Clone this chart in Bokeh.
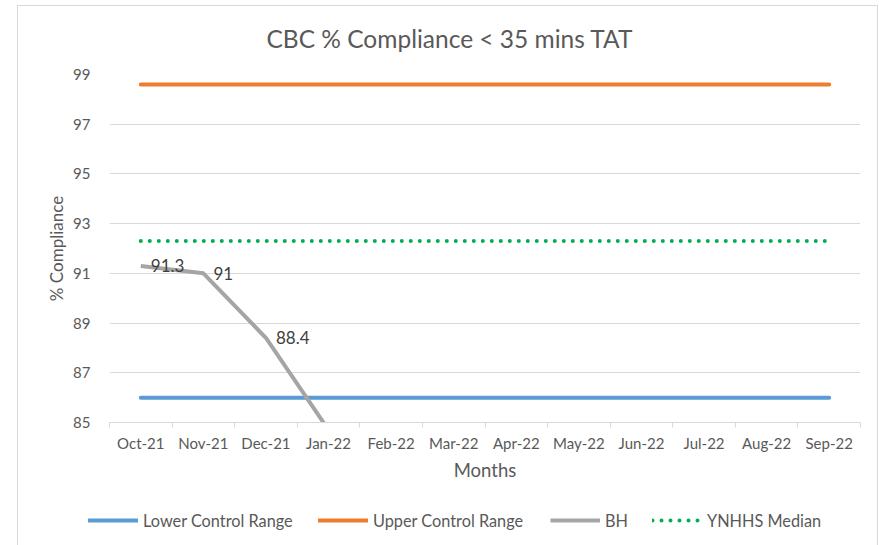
import math
from bokeh.plotting import figure
from bokeh.layouts import column
from bokeh.models import (Range1d, FixedTicker, Legend, LegendItem, Title,
                          ColumnDataSource, LabelSet)
from bokeh.core.properties import value
from bokeh.embed import file_html
from bokeh.resources import INLINE

# ---- data ----
months = ["Oct-21", "Nov-21", "Dec-21", "Jan-22", "Feb-22", "Mar-22",
          "Apr-22", "May-22", "Jun-22", "Jul-22", "Aug-22", "Sep-22"]
lower_control = [86.0, 86.0, 86.0, 86.0, 86.0, 86.0, 86.0, 86.0, 86.0, 86.0, 86.0, 86.0]
upper_control = [98.6, 98.6, 98.6, 98.6, 98.6, 98.6, 98.6, 98.6, 98.6, 98.6, 98.6, 98.6]
bh = [91.3, 91.0, 88.4, 84.7, float("nan"), float("nan"), float("nan"), float("nan"),
      float("nan"), float("nan"), float("nan"), float("nan")]
ynhhs_median = [92.3, 92.3, 92.3, 92.3, 92.3, 92.3, 92.3, 92.3, 92.3, 92.3, 92.3, 92.3]
y_ticks = [85, 87, 89, 91, 93, 95, 97, 99]
y_min, y_max = 85, 99
series_names = ["Lower Control Range", "Upper Control Range", "BH", "YNHHS Median"]
series_cols = ["lower", "upper", "bh", "med"]

FONT = "Lato"
GREY_TXT = "#595959"
BORDER = "1px solid #d9d9d9"
STYLES = [dict(line_color="#5B9BD5", line_width=4, line_cap="round"),
          dict(line_color="#ED7D31", line_width=4, line_cap="round"),
          dict(line_color="#A5A5A5", line_width=4, line_join="round"),
          dict(line_color="#00B050", line_width=4, line_dash="0 9", line_cap="round")]
LEGEND_X = [70, 300, 532, 634]   # left edge of each legend key within the strip
xs = [i + 0.5 for i in range(len(months))]

p = figure(width=861, height=478, output_backend="svg", toolbar_location=None,
           x_range=Range1d(0, len(months)), y_range=Range1d(y_min, y_max),
           min_border_left=91, min_border_right=19, min_border_top=68,
           min_border_bottom=62)
p.styles = {"margin-left": "17px", "margin-top": "5px",
            "border-top": BORDER, "border-left": BORDER, "border-right": BORDER}

p.outline_line_color = None
p.background_fill_color = "white"
p.border_fill_color = "white"

# spacer between frame and title, then the title itself
p.add_layout(Title(text=" ", text_font_size="17.5px", standoff=0), "above")
p.add_layout(Title(text="CBC % Compliance < 35 mins TAT", align="left", offset=157,
                   text_font=FONT, text_font_size="24.5px", text_font_style="normal",
                   text_color=GREY_TXT, standoff=0), "above")

# grid
p.xgrid.grid_line_color = None
p.ygrid.ticker = FixedTicker(ticks=y_ticks)
p.ygrid.grid_line_color = "#d9d9d9"
p.ygrid.grid_line_width = 1

# y axis
p.yaxis.ticker = FixedTicker(ticks=y_ticks)
p.yaxis.axis_line_color = None
p.yaxis.major_tick_line_color = None
p.yaxis.minor_tick_line_color = None
p.yaxis.major_label_standoff = 13
p.yaxis.major_label_text_font = FONT
p.yaxis.major_label_text_font_size = "15px"
p.yaxis.major_label_text_color = GREY_TXT
p.yaxis.axis_label = "% Compliance"
p.yaxis.axis_label_text_font = FONT
p.yaxis.axis_label_text_font_size = "17px"
p.yaxis.axis_label_text_font_style = "normal"
p.yaxis.axis_label_text_color = GREY_TXT
p.yaxis.axis_label_standoff = 3

# x axis
p.xaxis.ticker = FixedTicker(ticks=xs, minor_ticks=list(range(len(months) + 1)))
p.xaxis.major_label_overrides = {x: m for x, m in zip(xs, months)}
p.xaxis.axis_line_color = "#d9d9d9"
p.xaxis.major_tick_line_color = None
p.xaxis.major_tick_out = 0
p.xaxis.major_tick_in = 0
p.xaxis.minor_tick_line_color = "#d9d9d9"
p.xaxis.minor_tick_out = 5
p.xaxis.minor_tick_in = 0
p.xaxis.major_label_standoff = 6
p.xaxis.major_label_text_font = FONT
p.xaxis.major_label_text_font_size = "15px"
p.xaxis.major_label_text_color = GREY_TXT
p.xaxis.axis_label = "Months"
p.xaxis.axis_label_text_font = FONT
p.xaxis.axis_label_text_font_size = "18.5px"
p.xaxis.axis_label_text_font_style = "normal"
p.xaxis.axis_label_text_color = GREY_TXT
p.xaxis.axis_label_standoff = 4

src = ColumnDataSource(dict(x=xs, lower=lower_control, upper=upper_control,
                            bh=bh, med=ynhhs_median))
for col, st in zip(series_cols, STYLES):
    p.line("x", col, source=src, **st)

# data labels (only those inside the visible range)
lx, ly, lt = [], [], []
for x, v in zip(xs, bh):
    if not math.isnan(v) and y_min <= v <= y_max:
        lx.append(x)
        ly.append(v)
        lt.append(f"{v:g}")
lab_src = ColumnDataSource(dict(x=lx, y=ly, t=lt))
p.add_layout(LabelSet(x="x", y="y", text="t", source=lab_src, x_offset=10,
                      text_align="left", text_baseline="middle",
                      text_font=value(FONT), text_font_size=value("17px"),
                      text_color="#404040"))

# ---- legend strip below the chart (same series, out of its view) ----
q = figure(width=861, height=62, output_backend="svg", toolbar_location=None,
           x_axis_type=None, y_axis_type=None, min_border=0,
           min_border_left=0, min_border_right=0, min_border_top=0, min_border_bottom=0,
           x_range=Range1d(0, 0.1), y_range=Range1d(0, 0.1))
shift = 0
if hasattr(q, "frame_align"):
    q.frame_align = False
else:
    shift = -91  # frame aligned with the chart frame above
q.styles = {"margin-left": "17px", "border-left": BORDER, "border-right": BORDER}
q.outline_line_color = None
q.xgrid.grid_line_color = None
q.ygrid.grid_line_color = None
for name, col, st, lxp in zip(series_names, series_cols, STYLES, LEGEND_X):
    r = q.line("x", col, source=src, **st)
    lg = Legend(items=[LegendItem(label=name, renderers=[r])],
                orientation="horizontal", location=(lxp + shift, 15))
    lg.glyph_width = 50
    lg.glyph_height = 20
    lg.label_height = 20
    lg.label_standoff = 5
    lg.padding = 0
    lg.margin = 0
    lg.border_line_color = None
    lg.background_fill_alpha = 0
    lg.label_text_font = FONT
    lg.label_text_font_size = "16.3px"
    lg.label_text_color = GREY_TXT
    q.add_layout(lg, "center")

open("out.html", "w").write(file_html(column(p, q), INLINE))
